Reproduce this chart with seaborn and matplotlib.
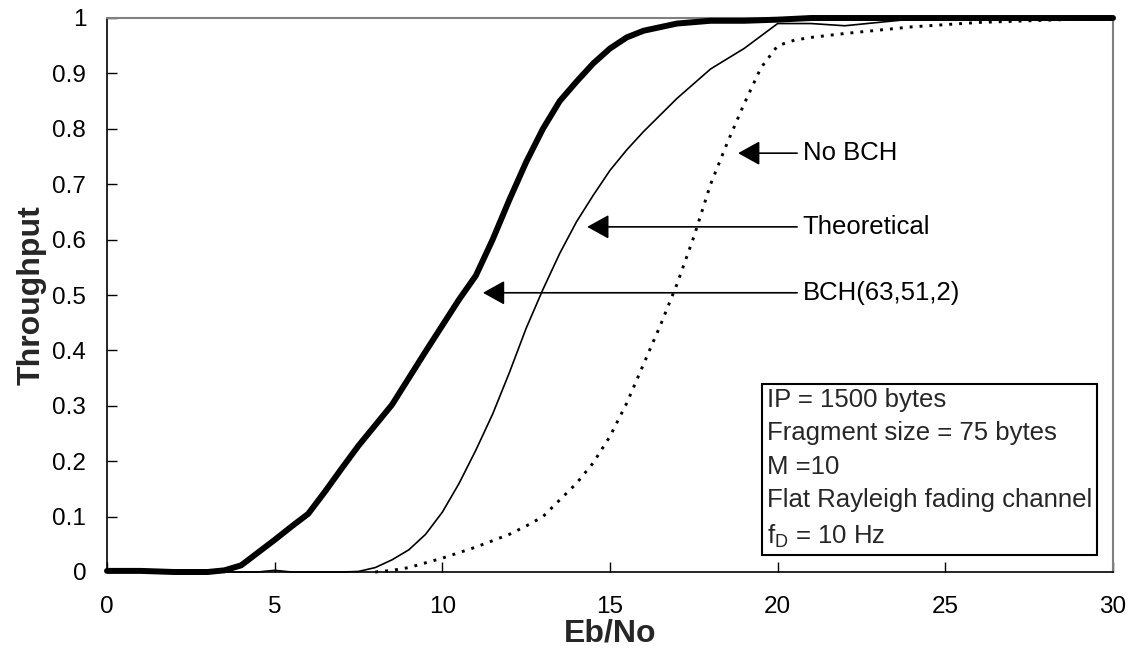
import matplotlib
matplotlib.use("Agg")
import matplotlib.pyplot as plt
import seaborn as sns
import pandas as pd
from matplotlib.ticker import FixedLocator, FuncFormatter

# ---- data ----
bch_x = [0, 1, 2, 3, 3.5, 4, 4.5, 5, 5.5, 6, 6.5, 7, 7.5, 8, 8.5, 9, 9.5, 10, 10.5, 11,
         11.5, 12, 12.5, 13, 13.5, 14, 14.5, 15, 15.5, 16, 17, 18, 19, 20, 21, 22, 24, 26, 28, 30]
bch_y = [0.002, 0.002, 0.0, 0.0, 0.003, 0.012, 0.035, 0.058, 0.082, 0.105, 0.145, 0.187, 0.228,
         0.265, 0.302, 0.35, 0.398, 0.445, 0.492, 0.535, 0.60, 0.672, 0.74, 0.80, 0.85, 0.885,
         0.918, 0.945, 0.965, 0.977, 0.99, 0.995, 0.995, 0.997, 1.0, 1.0, 1.0, 1.0, 1.0, 1.0]

theo_x = [0, 1, 2, 3, 4, 4.5, 5, 5.5, 6, 7, 7.5, 8, 8.5, 9, 9.5, 10, 10.5, 11, 11.5, 12, 12.5,
          13, 13.5, 14, 14.5, 15, 15.5, 16, 17, 18, 19, 20, 21, 22, 23, 24, 25, 26, 28, 30]
theo_y = [0.0, 0.0, 0.0, 0.0, 0.0, 0.0, 0.003, 0.0, 0.0, 0.0, 0.001, 0.008, 0.022, 0.04, 0.068,
          0.108, 0.16, 0.22, 0.285, 0.36, 0.44, 0.51, 0.575, 0.632, 0.68, 0.725, 0.762, 0.795,
          0.855, 0.908, 0.945, 0.99, 0.99, 0.986, 0.992, 0.998, 1.0, 1.0, 1.0, 1.0]

nobch_x = [8, 8.5, 9, 10, 11, 12, 12.5, 13, 13.5, 14, 14.5, 15, 15.5, 16, 16.5, 17, 17.5, 18,
           18.5, 19, 19.5, 20, 20.5, 21, 22, 23, 24, 25, 26, 27, 28, 29, 30]
nobch_y = [0.0, 0.003, 0.008, 0.025, 0.045, 0.068, 0.083, 0.10, 0.13, 0.16, 0.197, 0.245, 0.305,
           0.375, 0.445, 0.52, 0.605, 0.70, 0.775, 0.845, 0.91, 0.95, 0.96, 0.965, 0.972, 0.978,
           0.984, 0.988, 0.992, 0.994, 0.996, 0.998, 1.0]

x_ticks = [0, 5, 10, 15, 20, 25, 30]
y_ticks = [0, 0.1, 0.2, 0.3, 0.4, 0.5, 0.6, 0.7, 0.8, 0.9, 1.0]

labels = ["No BCH", "Theoretical", "BCH(63,51,2)"]
label_tips_x = [18.82, 14.32, 11.21]
label_tips_y = [0.756, 0.623, 0.504]

info_lines = ["IP = 1500 bytes", "Fragment size = 75 bytes", "M =10",
              "Flat Rayleigh fading channel", "f$_{\\mathregular{D}}$ = 10 Hz"]

# ---- styling ----
sns.set_style("ticks")
plt.rcParams['font.family'] = ['Liberation Sans', 'DejaVu Sans']
plt.rcParams['mathtext.fontset'] = 'custom'
plt.rcParams['mathtext.rm'] = 'Liberation Sans'

fig = plt.figure(figsize=(11.34, 6.53), dpi=100)
ax = fig.add_axes([107/1134, 1 - 572/653, (1113-107)/1134, (572-18)/653])

bch_df = pd.DataFrame({"x": bch_x, "y": bch_y})
theo_df = pd.DataFrame({"x": theo_x, "y": theo_y})
nobch_df = pd.DataFrame({"x": nobch_x, "y": nobch_y})

sns.lineplot(data=nobch_df, x="x", y="y", ax=ax, color="black", linewidth=2.1,
             linestyle=(0, (1, 2.4)), estimator=None, sort=False, clip_on=False, zorder=3)
sns.lineplot(data=theo_df, x="x", y="y", ax=ax, color="black", linewidth=1.2,
             estimator=None, sort=False, clip_on=False, zorder=4)
sns.lineplot(data=bch_df, x="x", y="y", ax=ax, color="black", linewidth=4.3,
             estimator=None, sort=False, clip_on=False, zorder=5, solid_joinstyle='round')

ax.set_xlim(0, 30)
ax.set_ylim(0, 1)
ax.xaxis.set_major_locator(FixedLocator(x_ticks))
ax.yaxis.set_major_locator(FixedLocator(y_ticks))
ax.yaxis.set_major_formatter(FuncFormatter(lambda v, p: "0" if abs(v) < 1e-9 else ("1" if abs(v - 1) < 1e-9 else f"{v:.1f}")))
ax.tick_params(axis='both', direction='in', length=7, width=1, colors='black', labelsize=17.5)
ax.tick_params(axis='x', pad=17)
ax.tick_params(axis='y', pad=15)

for side in ['left', 'bottom']:
    ax.spines[side].set_color('black')
    ax.spines[side].set_linewidth(1.2)
for side in ['top', 'right']:
    ax.spines[side].set_visible(True)
    ax.spines[side].set_color('#808080')
    ax.spines[side].set_linewidth(1.5)

ax.set_xlabel("Eb/No", fontsize=23, fontweight='bold', labelpad=1)
ax.set_ylabel("Throughput", fontsize=23, fontweight='bold', labelpad=4)

# annotations with arrows
tail_x = 20.58
text_x = 20.75
for lab, tx, ty in zip(labels, label_tips_x, label_tips_y):
    ax.annotate("", xy=(tx, ty), xytext=(tail_x, ty),
                arrowprops=dict(arrowstyle="-|>,head_length=0.9,head_width=0.5",
                                mutation_scale=15, color="black", lw=1.2,
                                shrinkA=0, shrinkB=0), zorder=6)
    ax.text(text_x, ty, lab, fontsize=18.5, va='center', ha='left', color='black', zorder=6)

# info box
ax.text(19.68, 0.333, "\n".join(info_lines), fontsize=18.5, va='top', ha='left',
        linespacing=1.5, zorder=7,
        bbox=dict(boxstyle='square,pad=0.2', facecolor='white', edgecolor='black', linewidth=1.5))

fig.savefig("out.png", dpi=100)
